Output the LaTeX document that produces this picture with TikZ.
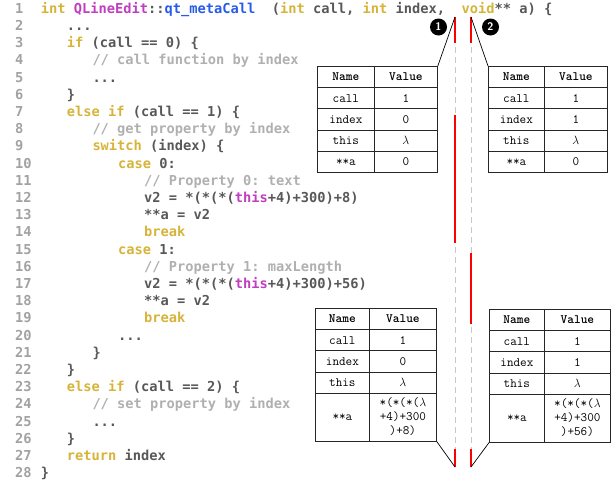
\documentclass[tikz,border=0pt]{standalone}
\usepackage{fontspec}
\newfontfamily\codefont{DejaVu Sans Mono}
\usetikzlibrary{matrix}

\definecolor{kwgold}{RGB}{214,180,58}
\definecolor{clsmag}{RGB}{192,62,192}
\definecolor{fnblue}{RGB}{40,92,232}
\definecolor{codegray}{RGB}{88,88,88}
\definecolor{cmtgray}{RGB}{176,176,176}
\definecolor{numgray}{RGB}{162,162,162}
\definecolor{railgray}{RGB}{200,200,200}

\newcommand\kw[1]{\textcolor{kwgold}{#1}}
\newcommand\cmt[1]{\textcolor{cmtgray}{#1}}
\newcommand\cls[1]{\textcolor{clsmag}{#1}}
\newcommand\fname[1]{\textcolor{fnblue}{#1}}

% multi-line values for the deref rows
\newcommand\derefA{\begin{tabular}{@{}c@{}}*(*(*($\lambda$\\+4)+300\\)+8)\end{tabular}}
\newcommand\derefB{\begin{tabular}{@{}c@{}}*(*(*($\lambda$\\+4)+300\\)+56)\end{tabular}}

\tikzset{
  code/.style={anchor=base west, inner sep=0pt, text=codegray,
    font=\fontsize{13.7}{17.2}\codefont\bfseries\frenchspacing},
  lineno/.style={code, text=numgray},
  vartab/.style={matrix of nodes, anchor=north west, inner sep=0pt, outer sep=0pt,
    column sep=-0.8pt, row sep=-0.8pt,
    nodes={draw=black!85, line width=0.8pt, anchor=center, inner sep=0pt,
      minimum height=21.2pt, font=\fontsize{12.8}{14}\ttfamily},
    row 1/.style={nodes={font=\fontsize{12.8}{14}\ttfamily\bfseries}}},
  badge/.style={circle, fill=black, text=white, inner sep=0pt,
    minimum size=17pt, font=\fontsize{11}{11}\sffamily\bfseries},
  rail/.style={draw=railgray, line width=1pt, dash pattern=on 6pt off 4pt},
  hit/.style={draw=red, line width=1.3pt},
  link/.style={draw=black, line width=0.7pt}
}

\begin{document}
\begin{tikzpicture}[x=1pt,y=-1pt]
  \useasboundingbox (0,0) rectangle (613,480);

  \foreach \i in {1,...,28}
    \node[lineno] (n\i) at (15,{13.3+(\i-1)*17.2}) {\i};

  \node[code] (l1)  at (40.7,13.3)  {\kw{int} \cls{QLineEdit}::\fname{qt\_metaCall}\ \ (\kw{int} call, \kw{int} index,\ \ \kw{void}** a) \{};
  \node[code] (l2)  at (66.7,30.5)  {...};
  \node[code] (l3)  at (66.7,47.7)  {\kw{if} (call == 0) \{};
  \node[code] (l4)  at (92.3,64.9)  {\cmt{// call function by index}};
  \node[code] (l5)  at (92.3,82.1)  {...};
  \node[code] (l6)  at (66.7,99.3)  {\}};
  \node[code] (l7)  at (66.7,116.5) {\kw{else if} (call == 1) \{};
  \node[code] (l8)  at (92.3,133.7) {\cmt{// get property by index}};
  \node[code] (l9)  at (92.3,150.9) {\kw{switch} (index) \{};
  \node[code] (l10) at (118,168.1)  {\kw{case} 0:};
  \node[code] (l11) at (144,185.3)  {\cmt{// Property 0: text}};
  \node[code] (l12) at (144,202.5)  {v2 = *(*(*(\cls{this}+4)+300)+8)};
  \node[code] (l13) at (144,219.7)  {**a = v2};
  \node[code] (l14) at (144,236.9)  {\kw{break}};
  \node[code] (l15) at (118,254.1)  {\kw{case} 1:};
  \node[code] (l16) at (144,271.3)  {\cmt{// Property 1: maxLength}};
  \node[code] (l17) at (144,288.5)  {v2 = *(*(*(\cls{this}+4)+300)+56)};
  \node[code] (l18) at (144,305.7)  {**a = v2};
  \node[code] (l19) at (144,322.9)  {\kw{break}};
  \node[code] (l20) at (118,340.1)  {...};
  \node[code] (l21) at (92.3,357.3) {\}};
  \node[code] (l22) at (66.7,374.5) {\}};
  \node[code] (l23) at (66.7,391.7) {\kw{else if} (call == 2) \{};
  \node[code] (l24) at (92.3,408.9) {\cmt{// set property by index}};
  \node[code] (l25) at (92.3,426.1) {...};
  \node[code] (l26) at (66.7,443.3) {\}};
  \node[code] (l27) at (66.7,460.5) {\kw{return} index};
  \node[code] (l28) at (40.7,477.7) {\}};

  \coordinate (top1) at (455,17);
  \coordinate (bot1) at (455,467);
  \coordinate (top2) at (471,17);
  \coordinate (bot2) at (471,467);

  \draw[rail] (top1) -- (bot1);
  \draw[rail] (top2) -- (bot2);

  \draw[hit] (top1) -- (455,43);
  \draw[hit] (455,115) -- (455,243);
  \draw[hit] (455,449) -- (bot1);
  \draw[hit] (top2) -- (471,43);
  \draw[hit] (471,253) -- (471,324);
  \draw[hit] (471,449) -- (bot2);

  \node[badge] (b1) at (438.5,27) {1};
  \node[badge] (b2) at (490.5,27) {2};

  \matrix (tabA) [vartab,
    column 1/.style={nodes={minimum width=57pt}},
    column 2/.style={nodes={minimum width=63pt}}] at (317,66) {
    Name  & Value \\
    call  & 1 \\
    index & 0 \\
    this  & $\lambda$ \\
    **a   & 0 \\
  };

  \matrix (tabB) [vartab,
    column 1/.style={nodes={minimum width=56pt}},
    column 2/.style={nodes={minimum width=63pt}}] at (488,66) {
    Name  & Value \\
    call  & 1 \\
    index & 1 \\
    this  & $\lambda$ \\
    **a   & 0 \\
  };

  \matrix (tabC) [vartab,
    column 1/.style={nodes={minimum width=54pt}},
    column 2/.style={nodes={minimum width=67pt}},
    row 5/.style={nodes={minimum height=48pt}}] at (315,308) {
    Name  & Value \\
    call  & 1 \\
    index & 0 \\
    this  & $\lambda$ \\
    **a   & \derefA \\
  };

  \matrix (tabD) [vartab,
    column 1/.style={nodes={minimum width=55pt}},
    column 2/.style={nodes={minimum width=66pt}},
    row 5/.style={nodes={minimum height=48pt}}] at (489,309) {
    Name  & Value \\
    call  & 1 \\
    index & 1 \\
    this  & $\lambda$ \\
    **a   & \derefB \\
  };

  \draw[link] (tabA.north east) -- (top1);
  \draw[link] (tabB.north west) -- (top2);
  \draw[link] (tabC.south east) -- (bot1);
  \draw[link] (tabD.south west) -- (bot2);

\end{tikzpicture}
\end{document}
